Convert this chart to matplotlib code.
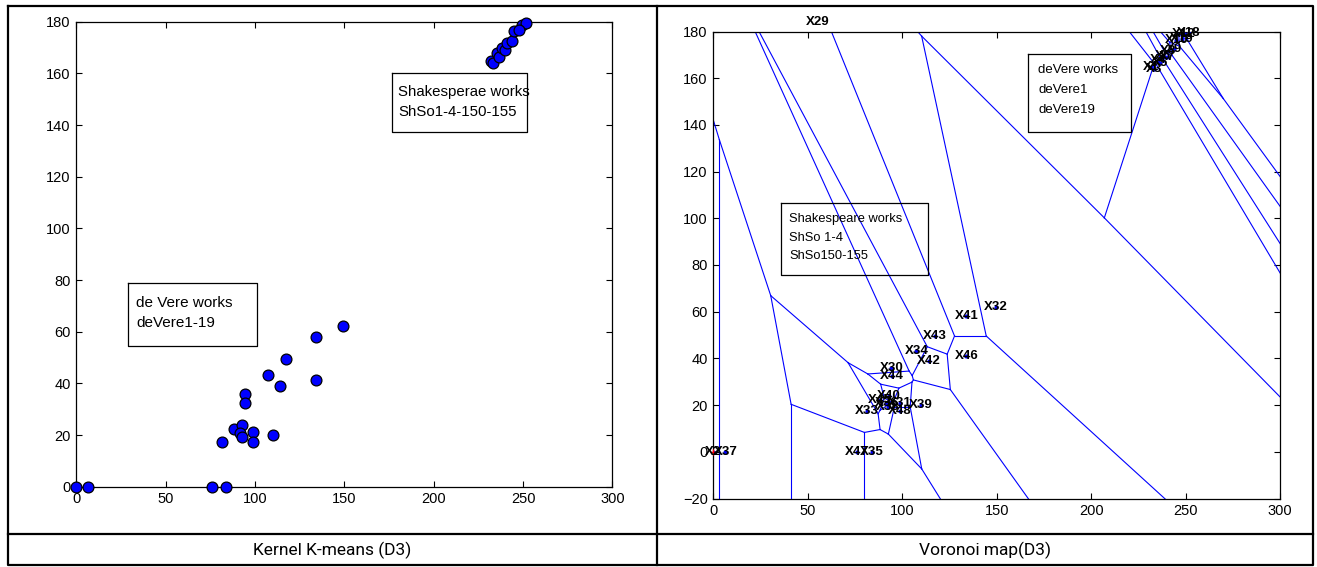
import numpy as np
import matplotlib
matplotlib.use("Agg")
import matplotlib.pyplot as plt

# ---------------- data ----------------
# lower group (de Vere works in left plot / generators X.. in right plot)
low_x = [0, 6.4, 76, 84, 81.4, 88, 93, 91.6, 92.5, 98.7, 98.7, 94.3, 94.5, 110,
         107.5, 114, 117.2, 134, 134, 149.4]
low_y = [0, 0, 0, 0, 17.4, 22.2, 23.8, 20.7, 19.1, 21, 17.4, 35.8, 32.3, 20,
         43.2, 39, 49.6, 58, 41.2, 62.1]
low_labels = ['X2', 'X37', 'X47', 'X35', 'X33', 'X45', 'X40', 'X36', 'X38', 'X31',
              'X48', 'X30', 'X44', 'X39', 'X34', 'X42', 'X43', 'X41', 'X46', 'X32']
# upper group (Shakespeare works in left plot)
up_x = [231.9, 233.4, 235.2, 236.6, 238.0, 240.1, 240.8, 243.9, 245.2, 249.2,
        251.6, 247.9]
up_y = [164.6, 164.0, 167.8, 166.35, 169.7, 169.1, 171.7, 172.46, 176.4, 178.8,
        179.4, 176.6]
up_labels = ['X1', 'X3', 'X4', 'X5', 'X6', 'X7', 'X8', 'X9', 'X10', 'X12',
             'X18', 'X19']
# label drawn outside the plotted range
extra_label = ('X29', 55, 184)
red_mark = (0, 0)

x_ticks = [0, 50, 100, 150, 200, 250, 300]
left_y_ticks = [0, 20, 40, 60, 80, 100, 120, 140, 160, 180]
right_y_ticks = [-20, 0, 20, 40, 60, 80, 100, 120, 140, 160, 180]

captions = ['Kernel K-means (D3)', 'Voronoi map(D3)']
left_box1 = ['Shakesperae works', 'ShSo1-4-150-155']
left_box2 = ['de Vere works', 'deVere1-19']
right_box1 = ['Shakespeare works', 'ShSo 1-4', 'ShSo150-155']
right_box2 = ['deVere works', 'deVere1', 'deVere19']

FONT = ['Liberation Sans', 'DejaVu Sans']
W, H = 1317, 567


def voronoi_segments(xs, ys, span=3000.0):
    pts = np.column_stack([xs, ys]).astype(float)
    n = len(pts)
    segs = []
    for i in range(n):
        for j in range(i + 1, n):
            pi, pj = pts[i], pts[j]
            v = pj - pi
            if np.hypot(*v) < 1e-9:
                continue
            m = (pi + pj) / 2
            d = np.array([-v[1], v[0]]) / np.hypot(*v)
            tmin, tmax = -span, span
            ok = True
            for k in range(n):
                if k == i or k == j:
                    continue
                pk = pts[k]
                a = 2 * np.dot(pk - pi, d)
                b = np.dot(pk, pk) - np.dot(pi, pi) - 2 * np.dot(m, pk - pi)
                if abs(a) < 1e-12:
                    if b < 0:
                        ok = False
                        break
                elif a > 0:
                    tmax = min(tmax, b / a)
                else:
                    tmin = max(tmin, b / a)
                if tmin >= tmax:
                    ok = False
                    break
            if ok and tmin < tmax:
                segs.append((m + tmin * d, m + tmax * d))
    return segs


fig = plt.figure(figsize=(W / 100, H / 100), dpi=100)
bg = fig.add_axes([0, 0, 1, 1])
bg.set_xlim(0, W)
bg.set_ylim(H, 0)
bg.axis('off')

# table frame
lw_tab = 1.6
bg.plot([8, 1313, 1313, 8, 8], [6, 6, 565, 565, 6], color='black', lw=lw_tab)
bg.plot([657, 657], [6, 565], color='black', lw=lw_tab)
bg.plot([8, 1313], [534, 534], color='black', lw=lw_tab)

bg.text(332, 550, captions[0], ha='center', va='center', fontsize=12.5,
        family=['Roboto', 'DejaVu Sans'], fontweight='normal', color='black')
bg.text(985, 550, captions[1], ha='center', va='center', fontsize=12.5,
        family=['Roboto', 'DejaVu Sans'], fontweight='normal', color='black')


def px_axes(x0, x1, ytop, ybot):
    return fig.add_axes([x0 / W, (H - ybot) / H, (x1 - x0) / W, (ybot - ytop) / H])


def style_axes(ax):
    ax.tick_params(direction='in', top=True, right=True, length=4, width=0.8,
                   labelsize=10.5, pad=4, colors='black')
    for s in ax.spines.values():
        s.set_linewidth(0.9)
    for lab in ax.get_xticklabels() + ax.get_yticklabels():
        lab.set_family(FONT)


# ---------------- left: kernel k-means ----------------
ax1 = px_axes(76.3, 612.4, 21.7, 486.7)
ax1.set_xlim(0, 300)
ax1.set_ylim(0, 180)
ax1.set_xticks(x_ticks)
ax1.set_yticks(left_y_ticks)
ax1.plot(low_x, low_y, 'o', ms=7.8, mfc='#0000ff', mec='black', mew=0.9,
         clip_on=False, zorder=3)
ax1.plot(up_x, up_y, 'o', ms=7.8, mfc='#0000ff', mec='black', mew=0.9,
         clip_on=False, zorder=3)
style_axes(ax1)

# ---------------- right: voronoi ----------------
ax2 = px_axes(713.3, 1280, 31.5, 498.5)
ax2.set_xlim(0, 300)
ax2.set_ylim(-20, 180)
ax2.set_xticks(x_ticks)
ax2.set_yticks(right_y_ticks)
all_x = low_x + up_x
all_y = low_y + up_y
for p, q in voronoi_segments(all_x, all_y):
    ax2.plot([p[0], q[0]], [p[1], q[1]], color='#0000ff', lw=0.8, zorder=2)
ax2.plot(all_x, all_y, '.', color='#0000ff', ms=4, zorder=3)
ax2.plot([red_mark[0]], [red_mark[1]], '+', color='red', ms=4, mew=1, zorder=3,
         clip_on=False)
for lx, ly, lab in zip(all_x, all_y, low_labels + up_labels):
    ax2.text(lx, ly, lab, ha='center', va='center', fontsize=9.5, fontweight='bold',
             family=FONT, clip_on=False, zorder=4)
ax2.text(extra_label[1], extra_label[2], extra_label[0], ha='center', va='center',
         fontsize=9.5, fontweight='bold', family=FONT, clip_on=False, zorder=4)
style_axes(ax2)


# ---------------- annotation boxes (pixel coords) ----------------
def textbox(x0, y0, x1, y1, lines, tx, ty, dy, fs):
    bg.plot([x0, x1, x1, x0, x0], [y0, y0, y1, y1, y0], color='black', lw=0.9,
            zorder=5)
    for i, t in enumerate(lines):
        bg.text(tx, ty + i * dy, t, ha='left', va='center', fontsize=fs,
                family=FONT, zorder=5)


bg.set_zorder(5)
bg.patch.set_visible(False)
textbox(392, 73, 527, 132, left_box1, 398, 92, 20, 10.8)
textbox(128.3, 283, 256.7, 346, left_box2, 136, 303, 20, 11)
textbox(780.7, 203.3, 928.3, 275, right_box1, 789.3, 219.3, 18.3, 9.3)
textbox(1028.3, 54, 1130.7, 131.7, right_box2, 1038.3, 70, 20, 9.5)

fig.savefig('out.png', dpi=100)
